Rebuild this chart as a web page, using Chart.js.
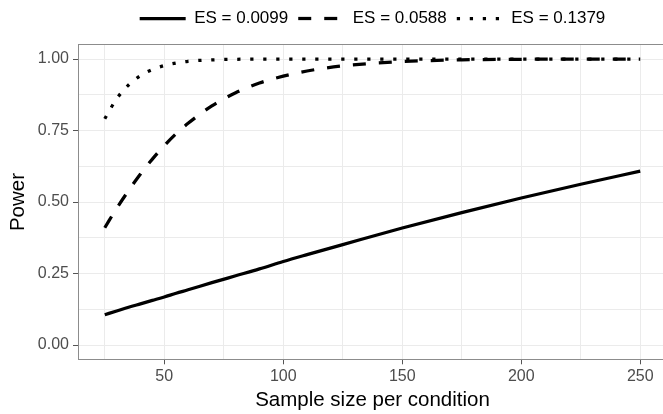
<!DOCTYPE html>
<html>
<head>
<meta charset="utf-8">
<script src="https://cdn.jsdelivr.net/npm/chart.js@4.4.0/dist/chart.umd.min.js"></script>
<style>
  html, body { margin: 0; padding: 0; background: #fff; overflow: hidden; }
  canvas { display: block; }
</style>
</head>
<body>
<canvas id="powerChart" width="667" height="414"></canvas>
<script>
// values
const sampleSizes = [25, 30, 35, 40, 45, 50, 55, 60, 70, 80, 90, 100, 110, 125, 150, 175, 200, 225, 250];
const powerSmall  = [0.106, 0.119, 0.132, 0.144, 0.156, 0.168, 0.181, 0.193, 0.218, 0.242, 0.266, 0.292, 0.316, 0.351, 0.409, 0.463, 0.514, 0.562, 0.608];
const powerMedium = [0.410, 0.478, 0.540, 0.598, 0.650, 0.697, 0.739, 0.775, 0.836, 0.882, 0.916, 0.940, 0.958, 0.976, 0.991, 0.997, 0.999, 1.000, 1.000];
const powerLarge  = [0.791, 0.861, 0.909, 0.942, 0.963, 0.977, 0.986, 0.992, 0.997, 0.999, 1.000, 1.000, 1.000, 1.000, 1.000, 1.000, 1.000, 1.000, 1.000];
const seriesLabels = ['ES = 0.0099', 'ES = 0.0588', 'ES = 0.1379'];
const xTickStep = 25;
const yTickStep = 0.125;

const fontFamily = "'Liberation Sans', Arial, sans-serif";
Chart.defaults.font.family = fontFamily;

const toPoints = arr => sampleSizes.map((n, i) => ({ x: n, y: arr[i] }));
const isMajorX = v => v % 50 === 0;
const isMajorY = v => Math.abs(v * 4 - Math.round(v * 4)) < 1e-6;

const lineStyle = {
    borderColor: '#000',
    borderWidth: 3.25,
    borderCapStyle: 'butt',
    pointRadius: 0,
    fill: false,
    cubicInterpolationMode: 'monotone'
};

const ctx = document.getElementById('powerChart').getContext('2d');
const powerChart = new Chart(ctx, {
    type: 'line',
    data: {
        datasets: [
            { ...lineStyle, label: seriesLabels[0], data: toPoints(powerSmall), borderDash: [] },
            { ...lineStyle, label: seriesLabels[1], data: toPoints(powerMedium), borderDash: [13, 13] },
            { ...lineStyle, label: seriesLabels[2], data: toPoints(powerLarge), borderDash: [3.25, 9.75] }
        ]
    },
    options: {
        responsive: false,
        animation: false,
        layout: { padding: 0 },
        plugins: {
            tooltip: { enabled: false },
            legend: {
                position: 'top',
                fullSize: false,
                labels: {
                    usePointStyle: true,
                    pointStyleWidth: 46,
                    padding: 10,
                    color: '#000',
                    font: { size: 17 },
                    generateLabels: chart => chart.data.datasets.map((ds, i) => ({
                        text: ds.label,
                        fillStyle: 'rgba(0,0,0,0)',
                        strokeStyle: '#000',
                        lineWidth: 3.25,
                        lineDash: ds.borderDash,
                        lineCap: 'butt',
                        pointStyle: 'line',
                        fontColor: '#000',
                        hidden: false,
                        datasetIndex: i
                    }))
                }
            }
        },
        scales: {
            x: {
                type: 'linear',
                min: 13.75,
                max: 261.25,
                afterFit: s => { s.height = 54.7; },
                border: { display: true, color: '#8c8c8c', width: 1 },
                grid: {
                    color: '#ebebeb',
                    lineWidth: 1,
                    tickLength: 5,
                    tickColor: c => isMajorX(c.tick.value) ? '#555' : 'rgba(0,0,0,0)'
                },
                ticks: {
                    stepSize: xTickStep,
                    includeBounds: false,
                    autoSkip: false,
                    maxRotation: 0,
                    padding: 3,
                    color: '#4d4d4d',
                    font: { size: 16 },
                    callback: v => isMajorX(v) ? String(v) : ''
                },
                title: {
                    display: true,
                    text: 'Sample size per condition',
                    color: '#000',
                    font: { size: 20.5 },
                    padding: { top: 0, bottom: 1.7 }
                }
            },
            // top spacer axis, gives the upper panel border
            xTop: {
                type: 'linear',
                position: 'top',
                min: 13.75,
                max: 261.25,
                afterFit: s => { s.height = 7.7; },
                border: { display: true, color: '#8c8c8c', width: 1 },
                grid: { display: false },
                ticks: { display: false }
            },
            y: {
                min: -0.05,
                max: 1.05,
                afterFit: s => { s.width = 78; },
                border: { display: true, color: '#8c8c8c', width: 1 },
                grid: {
                    color: '#ebebeb',
                    lineWidth: 1,
                    tickLength: 5,
                    tickColor: c => isMajorY(c.tick.value) ? '#555' : 'rgba(0,0,0,0)'
                },
                ticks: {
                    stepSize: yTickStep,
                    includeBounds: false,
                    padding: 4,
                    color: '#4d4d4d',
                    font: { size: 16 },
                    callback: v => isMajorY(v) ? v.toFixed(2) : ''
                },
                title: {
                    display: true,
                    text: 'Power',
                    color: '#000',
                    font: { size: 20.5 },
                    padding: { top: 6, bottom: 0 }
                }
            }
        }
    }
});
</script>
</body>
</html>
